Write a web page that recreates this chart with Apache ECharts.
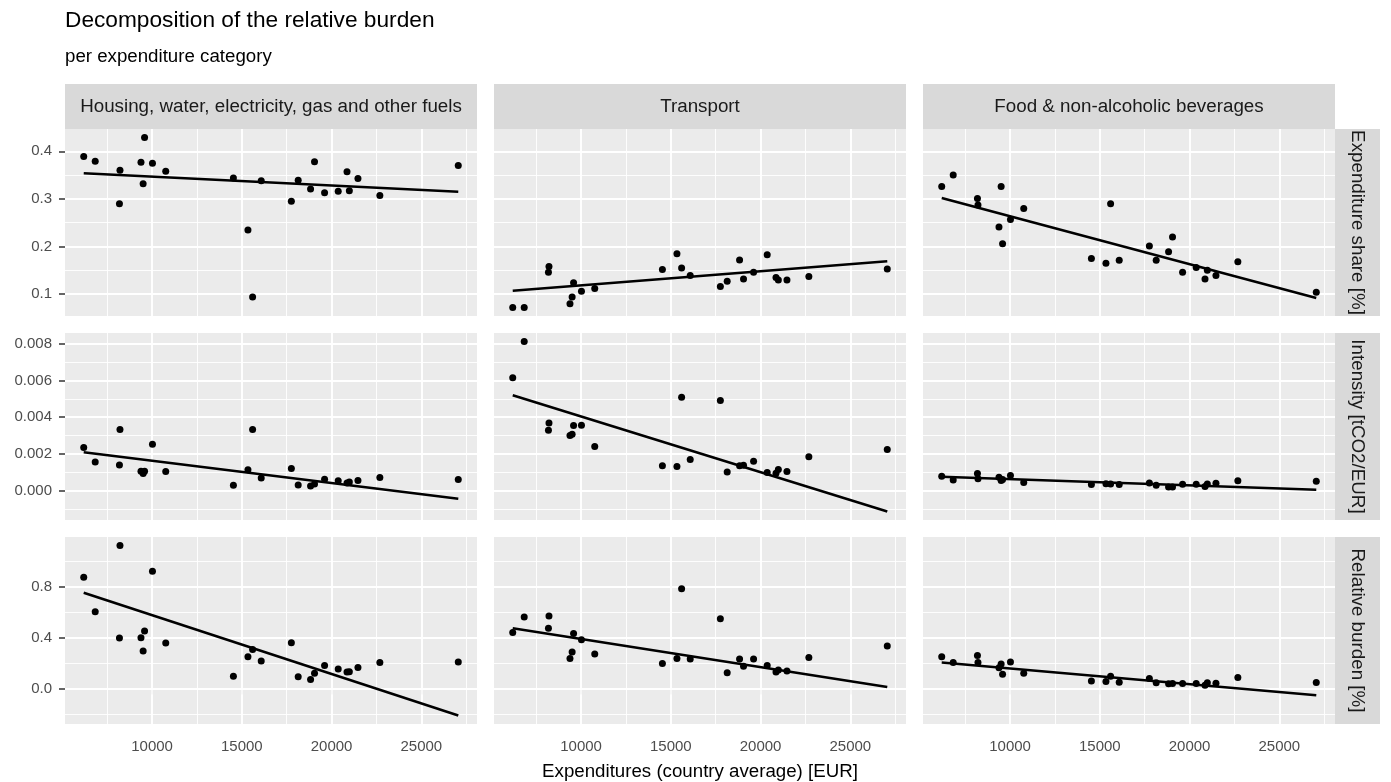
<!DOCTYPE html>
<html>
<head>
<meta charset="utf-8">
<script src="https://cdn.jsdelivr.net/npm/echarts@6/dist/echarts.min.js"></script>
<style>
  html, body { margin: 0; padding: 0; background: #ffffff; }
  #chart { width: 1391px; height: 782px; }
</style>
</head>
<body>
<div id="chart"></div>
<script>
// ---- data: one value per country, ordered by average expenditure ----
const expenditure = [6190, 6830, 8180, 8210, 9380, 9500, 9580, 10020, 10760, 14530, 15340, 15600,
  16080, 17760, 18140, 18830, 19050, 19610, 20370, 20860, 20990, 21470, 22690, 27060];

const categories = ['Housing, water, electricity, gas and other fuels', 'Transport', 'Food & non-alcoholic beverages'];
const measures = ['Expenditure share [%]', 'Intensity [tCO2/EUR]', 'Relative burden [%]'];

const shareHousing = [0.389, 0.379, 0.290, 0.360, 0.377, 0.332, 0.429, 0.375, 0.358, 0.344, 0.235, 0.094,
  0.338, 0.295, 0.339, 0.321, 0.378, 0.313, 0.316, 0.357, 0.317, 0.343, 0.307, 0.370];
const shareTransport = [0.072, 0.072, 0.146, 0.158, 0.080, 0.094, 0.124, 0.106, 0.112, 0.152, 0.185, 0.155,
  0.139, 0.116, 0.127, 0.172, 0.132, 0.146, 0.183, 0.135, 0.130, 0.130, 0.137, 0.153];
const shareFood = [0.326, 0.350, 0.301, 0.287, 0.241, 0.326, 0.206, 0.257, 0.280, 0.175, 0.165, 0.290,
  0.171, 0.201, 0.171, 0.189, 0.220, 0.146, 0.156, 0.132, 0.150, 0.139, 0.168, 0.104];

const intensityHousing = [0.00235, 0.00156, 0.00140, 0.00333, 0.00105, 0.00093, 0.00105, 0.00253, 0.00104, 0.00029, 0.00113, 0.00333,
  0.00069, 0.00120, 0.00031, 0.00025, 0.00036, 0.00062, 0.00053, 0.00042, 0.00047, 0.00055, 0.00071, 0.00060];
const intensityTransport = [0.00616, 0.00813, 0.00329, 0.00369, 0.00300, 0.00307, 0.00355, 0.00356, 0.00240, 0.00135, 0.00131, 0.00509,
  0.00169, 0.00491, 0.00102, 0.00135, 0.00138, 0.00160, 0.00098, 0.00095, 0.00115, 0.00104, 0.00185, 0.00224];
const intensityFood = [0.00078, 0.00058, 0.00093, 0.00065, 0.00073, 0.00055, 0.00060, 0.00082, 0.00044, 0.00033, 0.00038, 0.00036,
  0.00033, 0.00042, 0.00029, 0.00020, 0.00020, 0.00035, 0.00035, 0.00022, 0.00036, 0.00040, 0.00053, 0.00051];

const burdenHousing = [0.876, 0.605, 0.397, 1.127, 0.400, 0.295, 0.453, 0.924, 0.358, 0.097, 0.250, 0.308,
  0.216, 0.360, 0.092, 0.071, 0.121, 0.182, 0.153, 0.129, 0.132, 0.166, 0.205, 0.208];
const burdenTransport = [0.442, 0.563, 0.474, 0.571, 0.237, 0.287, 0.434, 0.384, 0.271, 0.197, 0.237, 0.787,
  0.232, 0.550, 0.124, 0.232, 0.176, 0.232, 0.182, 0.129, 0.145, 0.137, 0.245, 0.334];
const burdenFood = [0.250, 0.205, 0.260, 0.205, 0.163, 0.192, 0.113, 0.208, 0.121, 0.058, 0.055, 0.097,
  0.050, 0.079, 0.045, 0.037, 0.039, 0.039, 0.039, 0.026, 0.045, 0.042, 0.087, 0.047];

// fitted trend values at the lowest and highest expenditure (housing, transport, food)
const trendShareStart = [0.354, 0.107, 0.302];
const trendShareEnd = [0.315, 0.169, 0.092];
const trendIntensityStart = [0.00209, 0.00520, 0.00076];
const trendIntensityEnd = [-0.00045, -0.00114, 0.00004];
const trendBurdenStart = [0.755, 0.474, 0.205];
const trendBurdenEnd = [-0.213, 0.011, -0.053];

// tick marks and labels
const xTicks = [10000, 15000, 20000, 25000];
const yTicksShare = [0.1, 0.2, 0.3, 0.4];
const yTicksIntensity = [0.000, 0.002, 0.004, 0.006, 0.008];
const yTicksBurden = [0.0, 0.4, 0.8];
const yTickDecimals = [1, 3, 1];

// ---- panel grid: rows = measures, columns = categories ----
const panelValues = [
  [shareHousing, shareTransport, shareFood],
  [intensityHousing, intensityTransport, intensityFood],
  [burdenHousing, burdenTransport, burdenFood]
];
const trendStart = [trendShareStart, trendIntensityStart, trendBurdenStart];
const trendEnd = [trendShareEnd, trendIntensityEnd, trendBurdenEnd];
const yTicksByRow = [yTicksShare, yTicksIntensity, yTicksBurden];

const layout = { left: [65, 494, 923], top: [129, 333, 537], w: 412, h: 187, strip: 45 };
const FONT = '"Liberation Sans", Arial, Helvetica, sans-serif';

// 5% padding on each side of the data range
function padded(lo, hi) { const d = (hi - lo) * 0.05; return [lo - d, hi + d]; }

const xMin = Math.min(...expenditure), xMax = Math.max(...expenditure);
const trends = trendStart.map((row, r) => row.map((s, c) => [[xMin, s], [xMax, trendEnd[r][c]]]));
const xRange = padded(xMin, xMax);
const yRanges = panelValues.map((row, r) => {
  let vals = [];
  row.forEach((ys, c) => { vals = vals.concat(ys, [trendStart[r][c], trendEnd[r][c]]); });
  return padded(Math.min(...vals), Math.max(...vals));
});

// minor grid values halfway between major ticks, kept inside the range
function minorValues(ticks, range) {
  const step = ticks[1] - ticks[0];
  const out = [];
  for (let v = ticks[0] - step / 2; v <= range[1]; v += step) {
    if (v >= range[0]) out.push(v);
  }
  return out;
}
function majorValues(ticks, range) {
  const step = ticks[1] - ticks[0];
  const out = [];
  for (let v = ticks[0] - step * 3; v <= range[1] + 1e-12; v += step) {
    if (v >= range[0] - 1e-12) out.push(+v.toFixed(10));
  }
  return out;
}

const grids = [], xAxes = [], yAxes = [], series = [], graphics = [];

for (let r = 0; r < 3; r++) {
  for (let c = 0; c < 3; c++) {
    const idx = r * 3 + c;
    const yr = yRanges[r];
    grids.push({
      left: layout.left[c], top: layout.top[r], width: layout.w, height: layout.h,
      show: true, backgroundColor: '#ebebeb', borderWidth: 0, containLabel: false
    });
    xAxes.push({
      type: 'value', gridIndex: idx, min: xRange[0], max: xRange[1],
      axisLine: { show: false }, splitLine: { show: false },
      axisTick: { show: r === 2, customValues: xTicks, length: 6, lineStyle: { color: '#333333', width: 1.5 } },
      axisLabel: { show: r === 2, customValues: xTicks, margin: 15, color: '#4d4d4d', fontSize: 15, fontFamily: FONT,
        formatter: v => String(Math.round(v)) }
    });
    yAxes.push({
      type: 'value', gridIndex: idx, min: yr[0], max: yr[1],
      axisLine: { show: false }, splitLine: { show: false },
      axisTick: { show: c === 0, customValues: yTicksByRow[r], length: 6, lineStyle: { color: '#333333', width: 1.5 } },
      axisLabel: { show: c === 0, customValues: yTicksByRow[r], margin: 13, color: '#4d4d4d', fontSize: 15, fontFamily: FONT,
        formatter: v => v.toFixed(yTickDecimals[r]) }
    });

    // panel grid lines
    const vMajor = majorValues(xTicks, xRange), vMinor = minorValues(xTicks, xRange);
    const hMajor = majorValues(yTicksByRow[r], yr), hMinor = minorValues(yTicksByRow[r], yr);
    const seg = (lines, vertical) => lines.map(v => ({
      coords: vertical ? [[v, yr[0]], [v, yr[1]]] : [[xRange[0], v], [xRange[1], v]]
    }));
    series.push({
      type: 'lines', coordinateSystem: 'cartesian2d', xAxisIndex: idx, yAxisIndex: idx,
      silent: true, z: 1, animation: false,
      lineStyle: { color: '#ffffff', width: 0.9, opacity: 1 },
      data: seg(vMinor, true).concat(seg(hMinor, false))
    });
    series.push({
      type: 'lines', coordinateSystem: 'cartesian2d', xAxisIndex: idx, yAxisIndex: idx,
      silent: true, z: 1, animation: false,
      lineStyle: { color: '#ffffff', width: 1.9, opacity: 1 },
      data: seg(vMajor, true).concat(seg(hMajor, false))
    });

    // observations
    series.push({
      type: 'scatter', xAxisIndex: idx, yAxisIndex: idx, z: 3, animation: false,
      symbol: 'circle', symbolSize: 7,
      itemStyle: { color: '#000000', opacity: 1 },
      data: expenditure.map((x, i) => [x, panelValues[r][c][i]])
    });
    // linear trend
    series.push({
      type: 'line', xAxisIndex: idx, yAxisIndex: idx, z: 4, animation: false,
      showSymbol: false, symbol: 'none',
      lineStyle: { color: '#000000', width: 2.5 },
      data: trends[r][c]
    });
  }
}

// facet strips: categories on top
for (let c = 0; c < 3; c++) {
  graphics.push({
    type: 'rect', silent: true,
    shape: { x: layout.left[c], y: layout.top[0] - layout.strip, width: layout.w, height: layout.strip },
    style: { fill: '#d9d9d9' }
  });
  graphics.push({
    type: 'text', silent: true,
    x: layout.left[c] + layout.w / 2, y: layout.top[0] - layout.strip / 2,
    style: { text: categories[c], fill: '#1a1a1a', font: '18.8px ' + FONT, align: 'center', verticalAlign: 'middle' }
  });
}
// facet strips: measures on the right
const stripX = layout.left[2] + layout.w;
for (let r = 0; r < 3; r++) {
  graphics.push({
    type: 'rect', silent: true,
    shape: { x: stripX, y: layout.top[r], width: layout.strip, height: layout.h },
    style: { fill: '#d9d9d9' }
  });
  graphics.push({
    type: 'text', silent: true,
    x: stripX + layout.strip / 2, y: layout.top[r] + layout.h / 2, rotation: -Math.PI / 2,
    style: { text: measures[r], fill: '#1a1a1a', font: '18.8px ' + FONT, align: 'center', verticalAlign: 'middle' }
  });
}
// titles
graphics.push({
  type: 'text', silent: true, x: 65, y: 21,
  style: { text: 'Decomposition of the relative burden', fill: '#000000', font: '22.7px ' + FONT, verticalAlign: 'middle' }
});
graphics.push({
  type: 'text', silent: true, x: 65, y: 57,
  style: { text: 'per expenditure category', fill: '#000000', font: '18.7px ' + FONT, verticalAlign: 'middle' }
});
graphics.push({
  type: 'text', silent: true, x: (layout.left[0] + layout.left[2] + layout.w) / 2, y: 771.5,
  style: { text: 'Expenditures (country average) [EUR]', fill: '#000000', font: '18.7px ' + FONT, align: 'center', verticalAlign: 'middle' }
});

const chart = echarts.init(document.getElementById('chart'), null, { renderer: 'canvas' });
chart.setOption({
  animation: false,
  backgroundColor: '#ffffff',
  grid: grids,
  xAxis: xAxes,
  yAxis: yAxes,
  series: series,
  graphic: graphics
});
</script>
</body>
</html>
